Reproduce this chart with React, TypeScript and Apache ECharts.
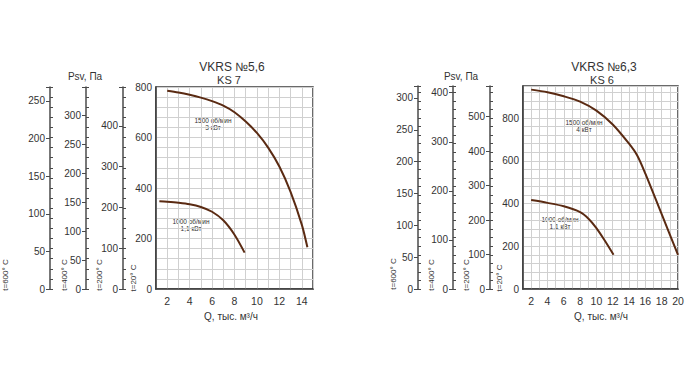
import React, { useEffect, useRef } from "react";
import * as echarts from "echarts";

// ---- data ----
const leftHiQ = [2, 3, 4, 5, 6, 7, 8, 9, 10, 11, 12, 13, 14, 14.5];
const leftHiP = [785, 778, 769, 758, 744, 726, 700, 663, 618, 560, 485, 385, 255, 165];
const leftLoQ = [1.3, 2, 3, 4, 5, 6, 7, 8, 8.9];
const leftLoP = [348, 346, 342, 336, 325, 306, 272, 215, 144];

const rightHiQ = [2, 4, 6, 8, 10, 12, 14, 15, 16, 18, 20];
const rightHiP = [933, 921, 902, 877, 835, 770, 680, 625, 540, 350, 160];
const rightLoQ = [2, 4, 6, 8, 9, 10, 11, 12.1];
const rightLoP = [416, 403, 387, 360, 330, 285, 228, 160];

const temps = [600, 400, 200];
const leftTempIntervals = [50, 50, 100];
const rightTempIntervals = [50, 100, 100];
const leftXRange = [1, 15];
const rightXRange = [1, 20];
const leftPMax = 800;
const rightPMax = 950;

const leftTitle = "VKRS №5,6";
const leftSub = "KS 7";
const rightTitle = "VKRS №6,3";
const rightSub = "KS 6";
const leftHiLabel = "1500 об/мин\n3 кВт";
const leftLoLabel = "1000 об/мин\n1,1 кВт";
const rightHiLabel = "1500 об/мин\n4 кВт";
const rightLoLabel = "1000 об/мин\n1,1 кВт";
const pTitle = "Psv, Па";
const qTitle = "Q, тыс. м³/ч";
const tempLabels = ["t=600° C", "t=400° C", "t=200° C", "t=20° C"];

const FONT = "Liberation Sans";
const TXT = "#333";
const AXIS = "#3a3a3a";
const GRIDC = "#d0d0d0";
const CURVE = "#5a2a12";

export default function App() {
  const ref = useRef<HTMLDivElement>(null);
  useEffect(() => {
    const chart = echarts.init(ref.current!, null, { renderer: "svg" });

    const grids = [
      { left: 156, top: 87, width: 157, height: 202 },
      { left: 523, top: 86, width: 155, height: 203 },
    ];
    const offsetsL = [106, 70, 33];
    const offsetsR = [105, 70, 33];

    const xAxes: any[] = [];
    const yAxes: any[] = [];
    const mainIdx: number[] = [];

    const panel = (
      g: number,
      xr: number[],
      pMax: number,
      tInts: number[],
      offs: number[]
    ) => {
      xAxes.push({
        gridIndex: g,
        type: "value",
        min: xr[0],
        max: xr[1],
        interval: 1,
        axisLine: { show: true, onZero: false, lineStyle: { color: AXIS, width: 1.5 } },
        axisTick: { show: false },
        axisLabel: {
          color: TXT,
          fontSize: 10.5,
          fontFamily: FONT,
          margin: 6,
          formatter: (v: number) => (v % 2 === 0 ? String(v) : ""),
        },
        splitLine: { show: true, lineStyle: { color: GRIDC, width: 1 } },
      });
      mainIdx.push(yAxes.length);
      yAxes.push({
        gridIndex: g,
        type: "value",
        position: "left",
        min: 0,
        max: pMax,
        interval: 40,
        axisLine: { show: true, lineStyle: { color: AXIS, width: 1.5 } },
        axisTick: { show: false },
        axisLabel: {
          color: TXT,
          fontSize: 10,
          fontFamily: FONT,
          margin: 4,
          formatter: (v: number) => (v % 200 === 0 ? String(v) : ""),
        },
        splitLine: { show: true, lineStyle: { color: GRIDC, width: 1 } },
      });
      temps.forEach((t, i) => {
        const tMax = (pMax * 293) / (273 + t);
        yAxes.push({
          gridIndex: g,
          type: "value",
          position: "left",
          offset: offs[i],
          min: 0,
          max: tMax,
          interval: tInts[i],
          axisLine: { show: true, lineStyle: { color: "#4a4a4a", width: 1.5 } },
          axisTick: { show: true, length: 4, lineStyle: { color: "#4a4a4a" } },
          axisLabel: {
            color: TXT,
            fontSize: 10,
            fontFamily: FONT,
            margin: 5,
            formatter: (v: number) => (v % tInts[i] === 0 ? String(v) : ""),
          },
          splitLine: { show: false },
        });
        yAxes.push({
          gridIndex: g,
          type: "value",
          position: "left",
          offset: offs[i],
          min: 0,
          max: pMax,
          interval: 40,
          axisLine: { show: false },
          axisTick: { show: true, inside: true, length: 3, lineStyle: { color: "#4a4a4a" } },
          axisLabel: { show: false },
          splitLine: { show: false },
        });
      });
    };
    panel(0, leftXRange, leftPMax, leftTempIntervals, offsetsL);
    panel(1, rightXRange, rightPMax, rightTempIntervals, offsetsR);

    const zip = (a: number[], b: number[]) => a.map((v, i) => [v, b[i]]);
    const line = (g: number, q: number[], p: number[]) => ({
      type: "line",
      xAxisIndex: g,
      yAxisIndex: mainIdx[g],
      data: zip(q, p),
      smooth: 0.3,
      symbol: "none",
      silent: true,
      lineStyle: { color: CURVE, width: 2 },
    });

    const txt = (x: number, y: number, text: string, size: number, extra: any = {}) => ({
      type: "text",
      x,
      y,
      silent: true,
      style: {
        text,
        fill: TXT,
        font: `${size}px "${FONT}"`,
        textAlign: "center",
        textVerticalAlign: "middle",
        ...extra,
      },
    });
    const rot = (x: number, y: number, text: string) => ({
      type: "text",
      x,
      y,
      rotation: Math.PI / 2,
      silent: true,
      style: {
        text,
        fill: TXT,
        font: `8px "${FONT}"`,
        textAlign: "center",
        textVerticalAlign: "middle",
      },
    });

    const graphic: any[] = [
      txt(232, 67, leftTitle, 12),
      txt(229, 80, leftSub, 11),
      txt(604, 67, rightTitle, 12),
      txt(602, 80, rightSub, 11),
      txt(85, 76, pTitle, 10),
      txt(461, 76, pTitle, 10),
      txt(231, 316, qTitle, 10),
      txt(601, 316, qTitle, 10),
      txt(213, 124, leftHiLabel, 6.5, { lineHeight: 7.5 }),
      txt(191, 225, leftLoLabel, 6.5, { lineHeight: 7.5 }),
      txt(584, 126, rightHiLabel, 6.5, { lineHeight: 7.5 }),
      txt(560, 223, rightLoLabel, 6.5, { lineHeight: 7.5 }),
      rot(5.5, 275, tempLabels[0]),
      rot(64.5, 275, tempLabels[1]),
      rot(99.5, 275, tempLabels[2]),
      rot(133, 278, tempLabels[3]),
      rot(393, 274, tempLabels[0]),
      rot(431.5, 275, tempLabels[1]),
      rot(466, 275, tempLabels[2]),
      rot(499.5, 278, tempLabels[3]),
    ];

    chart.setOption({
      animation: false,
      backgroundColor: "#ffffff",
      grid: grids.map((g) => ({
        ...g,
        show: true,
        borderColor: AXIS,
        borderWidth: 1.5,
        backgroundColor: "transparent",
        containLabel: false,
      })),
      xAxis: xAxes,
      yAxis: yAxes,
      series: [
        line(0, leftHiQ, leftHiP),
        line(0, leftLoQ, leftLoP),
        line(1, rightHiQ, rightHiP),
        line(1, rightLoQ, rightLoP),
      ],
      graphic,
    });
    return () => chart.dispose();
  }, []);
  return (
    <div
      ref={ref}
      style={{ position: "fixed", left: 0, top: 0, width: 700, height: 382 }}
    />
  );
}
